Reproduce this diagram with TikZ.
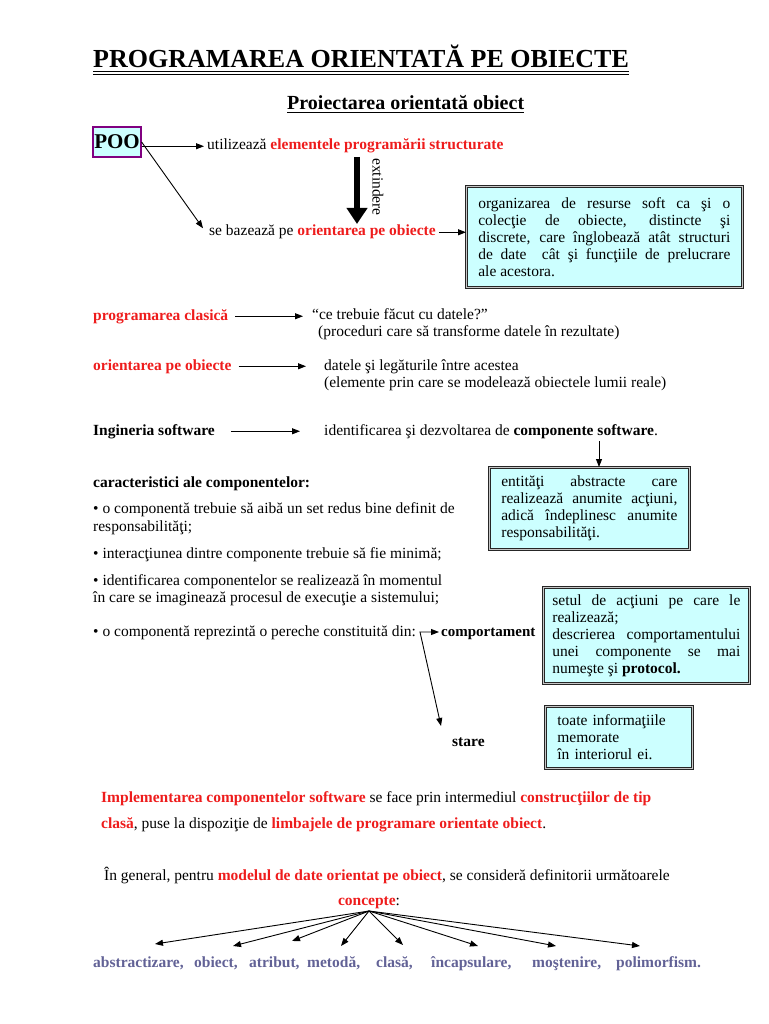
\documentclass[tikz,border=0pt]{standalone}
\usepackage{fontspec}
\setmainfont{Liberation Serif}
\usetikzlibrary{arrows.meta}
\definecolor{tred}{HTML}{EE1C1C}
\definecolor{boxfill}{HTML}{CCFFFF}
\definecolor{concol}{HTML}{626296}
\definecolor{poob}{HTML}{800080}
\newcommand{\rb}[1]{\textcolor{tred}{\bfseries #1}}
\begin{document}
\begin{tikzpicture}[x=1pt,y=-1pt,
  txt/.style={anchor=base west, inner sep=0pt, font=\fontsize{15.5}{17}\selectfont},
  btxt/.style={txt, font=\fontsize{15.5}{17}\selectfont\bfseries},
  ctxt/.style={txt, font=\fontsize{15.5}{17}\selectfont\bfseries, text=concol},
  arr/.style={-{Triangle[length=8pt,width=6pt]}, line width=0.9pt},
  arrb/.style={{Triangle[length=8pt,width=6pt]}-{Triangle[length=8pt,width=6pt]}, line width=0.9pt},
  dbox/.style={draw=black!85, line width=0.7pt, double=gray!45, double distance=1.6pt,
    fill=boxfill, anchor=north west, align=justify, inner ysep=0pt,
    font=\fontsize{15.5}{17}\selectfont}]
\useasboundingbox (0,0) rectangle (768,1024);

% titles
\node[txt, font=\fontsize{26}{30}\selectfont\bfseries] (title) at (93,68) {PROGRAMAREA ORIENTATĂ PE OBIECTE};
\draw[line width=1pt] ([yshift=-4pt]title.base west) -- ([yshift=-4pt]title.base east);
\draw[line width=1pt] ([yshift=-6.5pt]title.base west) -- ([yshift=-6.5pt]title.base east);
\node[txt, font=\fontsize{20}{24}\selectfont\bfseries] (sub) at (287,110) {Proiectarea orientată obiect};
\draw[line width=1pt] ([yshift=-3pt]sub.base west) -- ([yshift=-3pt]sub.base east);

% POO part
\node[draw=poob, line width=1.2pt, fill=boxfill, font=\fontsize{21}{22}\selectfont\bfseries,
  inner sep=1pt, minimum width=48pt, minimum height=30pt] (poo) at (117,142) {POO};
\node[txt] (util) at (207,150) {utilizează \rb{elementele programării structurate}};
\node[txt] (baz) at (209,236) {se bazează pe \rb{orientarea pe obiecte}};
\draw[arr, shorten >=3pt] (poo.east |- util.west) -- (util.west);
\draw[arr] (poo.east) -- ([xshift=-6pt,yshift=4pt]baz.west);
\coordinate (ext1) at (357,157);
\coordinate (ext2) at (357,224);
\draw[line width=6pt, -{Triangle[length=16pt,width=20pt]}] (ext1) -- (ext2);
\node[anchor=center, inner sep=0pt, rotate=-90, font=\fontsize{15.5}{17}\selectfont] (extl) at (378,187) {extindere};
\node[dbox, text width=252pt, inner xsep=12pt, minimum height=101pt] (b1) at (466,186)
  {organizarea de resurse soft ca şi o\linebreak colecţie de obiecte, distincte şi\linebreak discrete, care înglobează atât structuri\linebreak de date\ \ cât şi funcţiile de prelucrare\linebreak ale acestora.};
\draw[arr, shorten <=3pt] (baz.east) -- (baz.east -| b1.west);

% programarea clasica
\node[txt] (pc) at (93,320) {\rb{programarea clasică}};
\node[txt] (ce) at (312,319) {“ce trebuie făcut cu datele?”};
\node[txt] (proc) at (318,336) {(proceduri care să transforme datele în rezultate)};
\draw[arr, shorten <=7pt, shorten >=9pt] (pc.east) -- (pc.east -| ce.west);

\node[txt] (op) at (93,370) {\rb{orientarea pe obiecte}};
\node[txt] (dat) at (324,370) {datele şi legăturile între acestea};
\node[txt] (elem) at (324,387) {(elemente prin care se modelează obiectele lumii reale)};
\draw[arr, shorten <=7pt, shorten >=18pt] (op.east) -- (op.east -| dat.west);

\node[btxt] (ing) at (93,435) {Ingineria software};
\node[txt] (ident) at (324,435) {identificarea şi dezvoltarea de \textbf{componente software}.};
\draw[arr, shorten <=16pt, shorten >=24pt] (ing.east) -- (ing.east -| ident.west);

\node[dbox, text width=176pt, inner xsep=12pt, minimum height=82pt] (b2) at (489,467)
  {entităţi abstracte care\linebreak realizează anumite acţiuni,\linebreak adică îndeplinesc anumite\linebreak responsabilităţi.};
\coordinate (csw) at (599,441);
\draw[arr] (csw) -- (csw |- b2.north);

% caracteristici
\node[btxt] (car) at (93,487) {caracteristici ale componentelor:};
\node[txt] (c1) at (93,513) {• o componentă trebuie să aibă un set redus bine definit de};
\node[txt] (c1b) at (93,531) {responsabilităţi;};
\node[txt] (c2) at (93,558) {• interacţiunea dintre componente trebuie să fie minimă;};
\node[txt] (c3) at (93,585) {• identificarea componentelor se realizează în momentul};
\node[txt] (c3b) at (93,602) {în care se imaginează procesul de execuţie a sistemului;};
\node[txt] (c4) at (93,636) {• o componentă reprezintă o pereche constituită din:};

\node[btxt, font=\fontsize{15}{17}\selectfont\bfseries] (comp) at (441,636) {comportament};
\node[btxt] (stare) at (452,746) {stare};
\coordinate (corner) at (420,632);
\coordinate (stend) at (441,726);
\draw[arrb, shorten >=2pt] (stend) -- (corner) -- (corner -| comp.west);

\node[dbox, text width=188pt, inner xsep=9pt, minimum height=96pt] (b3) at (543,587)
  {setul de acţiuni pe care le\linebreak realizează;\\ descrierea comportamentului\linebreak unei componente se mai\linebreak numeşte şi \textbf{protocol.}};
\node[dbox, text width=123pt, inner xsep=12pt, minimum height=62pt, align=left] (b4) at (545,706)
  {toate informaţiile\\ memorate\\ în interiorul ei.};

% implementare
\node[txt] (impl) at (101,802) {\rb{Implementarea componentelor software} se face prin intermediul \rb{construcţiilor de tip}};
\node[txt] (cls) at (101,828) {\rb{clasă}, puse la dispoziţie de \rb{limbajele de programare orientate obiect}.};
\node[txt] (gen) at (104,880) {În general, pentru \rb{modelul de date orientat pe obiect}, se consideră definitorii următoarele};
\node[txt, anchor=base] (conc) at (369,905) {\rb{concepte}:};

% concepts
\node[ctxt] (k1) at (93,967) {abstractizare,};
\node[ctxt] (k2) at (194,967) {obiect,};
\node[ctxt] (k3) at (249,967) {atribut,};
\node[ctxt] (k4) at (307,967) {metodă,};
\node[ctxt] (k5) at (376,967) {clasă,};
\node[ctxt] (k6) at (431,967) {încapsulare,};
\node[ctxt] (k7) at (532,967) {moştenire,};
\node[ctxt] (k8) at (616,967) {polimorfism.};

\coordinate (fan) at (369,911);
\coordinate (e1) at (155,944);
\coordinate (e2) at (233,946);
\coordinate (e3) at (292,941);
\coordinate (e4) at (341,946);
\coordinate (e5) at (403,945);
\coordinate (e6) at (478,946);
\coordinate (e7) at (556,946);
\coordinate (e8) at (640,946);
\foreach \e in {e1,e2,e3,e4,e5,e6,e7,e8} \draw[arr] (fan) -- (\e);
\end{tikzpicture}
\end{document}
